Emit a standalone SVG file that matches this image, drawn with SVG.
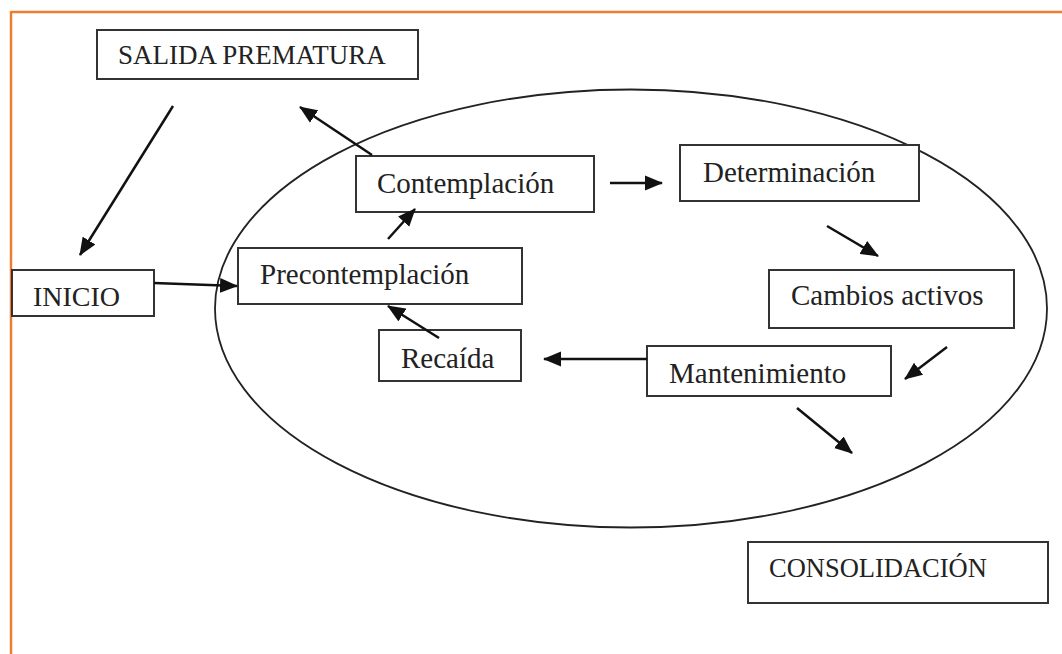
<svg xmlns="http://www.w3.org/2000/svg" width="1062" height="654" viewBox="0 0 1062 654">
<style>
.box{fill:#fff;stroke:#333;stroke-width:2}
.lbl{font-family:"Liberation Serif","Times New Roman",serif;fill:#222}
.conn line{stroke:#111;stroke-width:2.5;marker-end:url(#ah)}
</style>
<defs>
<marker id="ah" markerUnits="userSpaceOnUse" markerWidth="19" markerHeight="16" refX="17" refY="8" orient="auto">
<path d="M0,0.5 L18,8 L0,15.5 z" fill="#111"/>
</marker>
</defs>
<rect x="0" y="0" width="1062" height="654" fill="#fff"/>
<g id="border" stroke="#ED7D31" stroke-width="2.5" fill="none">
<line x1="11" y1="12" x2="1062" y2="12"/>
<line x1="11" y1="11" x2="11" y2="654"/>
</g>
<ellipse id="cycle" cx="631" cy="308.5" rx="416" ry="219" fill="none" stroke="#222" stroke-width="1.8"/>
<g id="salida"><rect class="box" x="97" y="30" width="321" height="49"/><text class="lbl" x="118" y="64" font-size="27">SALIDA PREMATURA</text></g>
<g id="inicio"><rect class="box" x="12" y="270" width="142" height="46"/><text class="lbl" x="33" y="306" font-size="28">INICIO</text></g>
<g id="precontemplacion"><rect class="box" x="238" y="248" width="284" height="56"/><text class="lbl" x="260" y="284" font-size="29">Precontemplación</text></g>
<g id="contemplacion"><rect class="box" x="356" y="156" width="238" height="56"/><text class="lbl" x="377" y="193" font-size="29">Contemplación</text></g>
<g id="determinacion"><rect class="box" x="680" y="145" width="239" height="56"/><text class="lbl" x="703" y="182" font-size="29">Determinación</text></g>
<g id="cambios"><rect class="box" x="769" y="270" width="245" height="58"/><text class="lbl" x="791" y="305" font-size="29">Cambios activos</text></g>
<g id="recaida"><rect class="box" x="379" y="330" width="142" height="51"/><text class="lbl" x="401" y="368" font-size="29">Recaída</text></g>
<g id="mantenimiento"><rect class="box" x="647" y="346" width="244" height="50"/><text class="lbl" x="669" y="383" font-size="29">Mantenimiento</text></g>
<g id="consolidacion"><rect class="box" x="748" y="542" width="300" height="61"/><text class="lbl" x="769" y="577" font-size="26.5">CONSOLIDACIÓN</text></g>
<g class="conn" id="connectors">
<line x1="173" y1="106" x2="80" y2="255"/>
<line x1="372" y1="155" x2="300" y2="107"/>
<line x1="154" y1="283" x2="237" y2="286"/>
<line x1="388" y1="239" x2="415" y2="209"/>
<line x1="439" y1="338" x2="388" y2="306"/>
<line x1="610" y1="183" x2="662" y2="183"/>
<line x1="827" y1="226" x2="878" y2="256"/>
<line x1="947" y1="347" x2="905" y2="379"/>
<line x1="647" y1="359" x2="544" y2="359"/>
<line x1="797" y1="408" x2="852" y2="453"/>
</g>
</svg>
